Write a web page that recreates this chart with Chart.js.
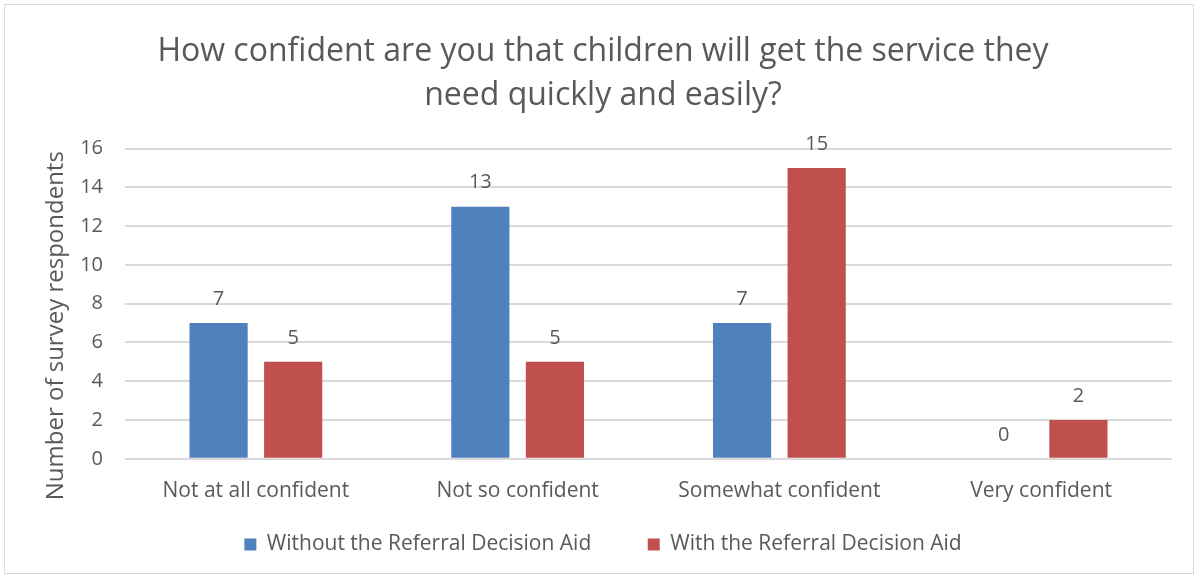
<!DOCTYPE html>
<html>
<head>
<meta charset="utf-8">
<script src="https://cdn.jsdelivr.net/npm/chart.js@4.4.1/dist/chart.umd.min.js"></script>
<style>
  html, body { margin: 0; padding: 0; background: #ffffff; }
  #frame {
    position: absolute; left: 4px; top: 4px; width: 1190px; height: 570px;
    border: 1px solid #d9d9d9; box-sizing: border-box; background: #fff;
  }
  #wrap { position: absolute; left: 0; top: 0; width: 1197px; height: 578px; }
</style>
</head>
<body>
<div id="frame"></div>
<div id="wrap"><canvas id="c" width="1197" height="578"></canvas></div>
<script>
const categories = ["Not at all confident", "Not so confident", "Somewhat confident", "Very confident"];
const withoutAid = [7, 13, 7, 0];
const withAid = [5, 5, 15, 2];
const seriesNames = ["Without the Referral Decision Aid", "With the Referral Decision Aid"];
const titleLines = ["How confident are you that children will get the service they", "need quickly and easily?"];
const yTitle = "Number of survey respondents";

const FONT = "'Open Sans', 'Liberation Sans', sans-serif";
const TEXT = "#595959";

// Writes each bar's value above its top, plus the rotated value-axis title
const annotations = {
  id: "annotations",
  afterDatasetsDraw(chart) {
    const ctx = chart.ctx;
    ctx.save();
    ctx.font = "20px " + FONT;
    ctx.fillStyle = TEXT;
    ctx.textAlign = "center";
    ctx.textBaseline = "middle";
    chart.data.datasets.forEach((ds, i) => {
      chart.getDatasetMeta(i).data.forEach((bar, j) => {
        ctx.fillText(String(ds.data[j]), bar.x, bar.y - 24);
      });
    });
    const area = chart.chartArea;
    ctx.font = "24px " + FONT;
    ctx.translate(56, (area.top + area.bottom) / 2 + 22);
    ctx.rotate(-Math.PI / 2);
    ctx.fillText(yTitle, 0, 0);
    ctx.restore();
  }
};

new Chart(document.getElementById("c"), {
  type: "bar",
  data: {
    labels: categories,
    datasets: [
      { label: seriesNames[0], data: withoutAid, backgroundColor: "#4f81bd" },
      { label: seriesNames[1], data: withAid, backgroundColor: "#c0504d" }
    ]
  },
  options: {
    responsive: false,
    animation: false,
    devicePixelRatio: 1,
    categoryPercentage: 0.57,
    barPercentage: 0.78,
    layout: { padding: { left: 34, right: 25, top: 19, bottom: 13 } },
    plugins: {
      tooltip: { enabled: false },
      title: {
        display: true,
        text: titleLines,
        color: TEXT,
        font: { family: FONT, size: 32, weight: "normal", lineHeight: 1.4 },
        padding: { top: 10, bottom: 30 }
      },
      legend: {
        position: "bottom",
        labels: {
          color: TEXT,
          font: { family: FONT, size: 21 },
          boxWidth: 12, boxHeight: 12, padding: 18,
          // widen the gap after the first entry
          generateLabels(chart) {
            const items = Chart.defaults.plugins.legend.labels.generateLabels(chart);
            items.forEach((it, i) => { if (i < items.length - 1) it.text += "\u2003\u2002\u2009\u2009"; });
            return items;
          }
        }
      }
    },
    scales: {
      x: {
        grid: { display: false },
        border: { display: false },
        ticks: { color: TEXT, font: { family: FONT, size: 21 }, padding: 12 }
      },
      y: {
        min: 0, max: 16,
        ticks: { stepSize: 2, color: TEXT, font: { family: FONT, size: 20 }, padding: 22 },
        grid: { color: "#d9d9d9", lineWidth: 2, drawTicks: false },
        border: { display: false },
        afterFit(scale) { scale.width = 91; }
      }
    }
  },
  plugins: [annotations]
});
</script>
</body>
</html>
